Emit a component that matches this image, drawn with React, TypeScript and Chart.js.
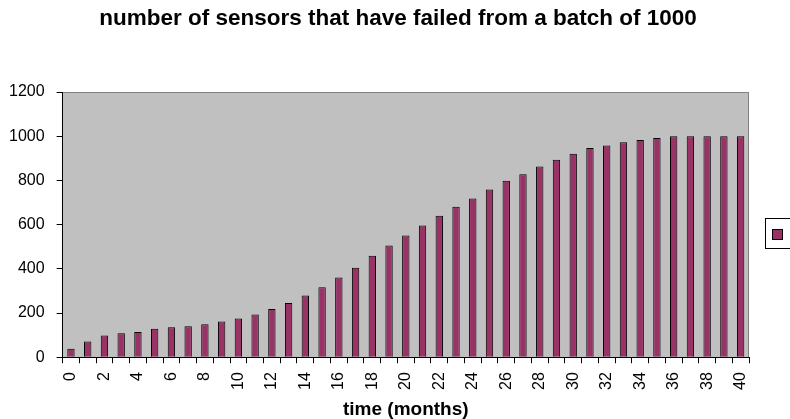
import React, { useEffect, useRef } from 'react';
import { Chart, registerables } from 'chart.js';

Chart.register(...registerables);

const chartTitle = 'number of sensors that have failed from a batch of 1000';
const xAxisTitle = 'time (months)';

const months = [
  '0', '1', '2', '3', '4', '5', '6', '7', '8', '9',
  '10', '11', '12', '13', '14', '15', '16', '17', '18', '19',
  '20', '21', '22', '23', '24', '25', '26', '27', '28', '29',
  '30', '31', '32', '33', '34', '35', '36', '37', '38', '39', '40',
];

const failedSensors = [
  38, 71, 98, 108, 114, 129, 135, 140, 149, 161,
  175, 193, 218, 245, 279, 316, 361, 405, 459, 506,
  551, 596, 640, 681, 718, 759, 798, 828, 863, 894,
  921, 947, 958, 973, 983, 992, 1000, 1000, 1000, 1000, 1000,
];

const yMin = 0;
const yMax = 1200;
const yStep = 200;

const FONT = '"Liberation Sans", Arial, sans-serif';
const BAR_COLOR = '#993366';
const PLOT_BG = '#C0C0C0';

const plotBackground = {
  id: 'plotBackground',
  beforeDraw(chart: any) {
    const { ctx, chartArea } = chart;
    const { left, top, right, bottom } = chartArea;
    ctx.save();
    ctx.fillStyle = PLOT_BG;
    ctx.fillRect(left, top, right - left, bottom - top);
    ctx.strokeStyle = '#808080';
    ctx.lineWidth = 1;
    ctx.beginPath();
    ctx.moveTo(left, top + 0.5);
    ctx.lineTo(right - 0.5, top + 0.5);
    ctx.lineTo(right - 0.5, bottom);
    ctx.stroke();
    ctx.restore();
  },
};

const pageTitle = {
  id: 'pageTitle',
  afterDraw(chart: any) {
    const { ctx, width } = chart;
    ctx.save();
    ctx.fillStyle = '#000000';
    ctx.font = `bold 22.5px ${FONT}`;
    ctx.textAlign = 'center';
    ctx.textBaseline = 'middle';
    ctx.fillText(chartTitle, width / 2 + 3, 19);
    ctx.restore();
  },
};

const legendBox = {
  id: 'legendBox',
  afterDraw(chart: any) {
    const { ctx, chartArea } = chart;
    const mid = (chartArea.top + chartArea.bottom) / 2;
    const bx = Math.round(chartArea.right + 16) + 0.5;
    const by = Math.round(mid - 7) + 0.5;
    ctx.save();
    ctx.fillStyle = '#ffffff';
    ctx.fillRect(bx, by, 40, 30);
    ctx.strokeStyle = '#000000';
    ctx.lineWidth = 1;
    ctx.strokeRect(bx, by, 40, 30);
    const mx = bx + 7;
    const my = by + 11;
    ctx.fillStyle = BAR_COLOR;
    ctx.fillRect(mx, my, 10, 10);
    ctx.strokeRect(mx, my, 10, 10);
    ctx.restore();
  },
};

export default function App() {
  const canvasRef = useRef<HTMLCanvasElement | null>(null);

  useEffect(() => {
    document.body.style.margin = '0';
    document.body.style.overflow = 'hidden';
    const canvas = canvasRef.current;
    if (!canvas) return;
    const chart = new Chart(canvas, {
      type: 'bar',
      data: {
        labels: months,
        datasets: [
          {
            label: '',
            data: failedSensors,
            backgroundColor: BAR_COLOR,
            borderColor: '#000000',
            borderWidth: 1,
            barPercentage: 0.44,
            categoryPercentage: 1,
          },
        ],
      },
      options: {
        responsive: false,
        animation: false,
        layout: { padding: { top: 92, left: -3, right: 41, bottom: 0 } },
        plugins: {
          legend: { display: false },
          tooltip: { enabled: false },
          title: { display: false },
        },
        scales: {
          x: {
            offset: true,
            grid: {
              offset: true,
              drawOnChartArea: false,
              drawTicks: true,
              tickLength: 6,
              color: '#000000',
            },
            border: { display: true, color: '#000000', width: 1 },
            ticks: {
              autoSkip: false,
              minRotation: 90,
              maxRotation: 90,
              padding: 9,
              color: '#000000',
              font: { family: FONT, size: 16 },
              callback: (_v: any, i: number) => (i % 2 === 0 ? months[i] : ''),
            },
            title: {
              display: true,
              text: xAxisTitle,
              color: '#000000',
              font: { family: FONT, size: 19, weight: 'bold', lineHeight: 1 },
              padding: { top: 1, bottom: 0 },
            },
          },
          y: {
            min: yMin,
            max: yMax,
            grid: {
              drawOnChartArea: false,
              drawTicks: true,
              tickLength: 6,
              color: '#000000',
            },
            border: { display: true, color: '#000000', width: 1 },
            ticks: {
              stepSize: yStep,
              padding: 12,
              color: '#000000',
              font: { family: FONT, size: 16 },
              callback: (v: any) => String(v),
            },
          },
        },
      },
      plugins: [plotBackground, legendBox, pageTitle],
    });
    return () => chart.destroy();
  }, []);

  return (
    <div style={{ position: 'fixed', left: 0, top: 0, width: 790, height: 419, background: '#fff' }}>
      <canvas ref={canvasRef} width={790} height={419} />
    </div>
  );
}
